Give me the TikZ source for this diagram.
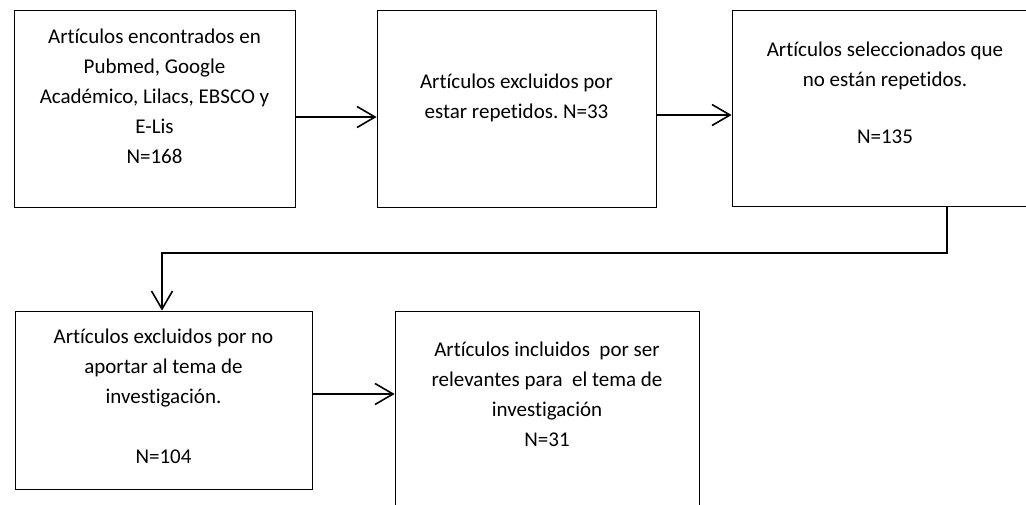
\documentclass[tikz,border=0pt]{standalone}
\usepackage{fontspec}
\setmainfont{Carlito}[Ligatures=NoCommon]
\usetikzlibrary{arrows.meta}
\frenchspacing

\begin{document}
\begin{tikzpicture}[x=1pt,y=-1pt]
  \useasboundingbox (0,0) rectangle (1026,504);

  \begin{scope}[every node/.style={draw,line width=.8pt,inner sep=0}]
    \node[minimum width=281,minimum height=197] (b1) at (154.5,108.5) {};
    \node[minimum width=279,minimum height=197] (b2) at (516.5,108.5) {};
    \node[minimum width=306,minimum height=196] (b3) at (885,108)     {};
    \node[minimum width=297,minimum height=178] (b4) at (163.5,400)   {};
    \node[minimum width=304,minimum height=209] (b5) at (547,415.5)   {};
  \end{scope}

  \begin{scope}[every node/.style={anchor=north,inner sep=0,align=center,
      font=\fontsize{21}{30}\selectfont}]
    \node (t1) at ([yshift=-19]b1.north) {Artículos encontrados en\\Pubmed, Google\\Académico, Lilacs, EBSCO y\\E-Lis\\N=168};
    \node (t2) at ([yshift=-64]b2.north) {Artículos excluidos por\\estar repetidos. N=33};
    \node (t3) at ([yshift=-32]b3.north) {Artículos seleccionados que\\no están repetidos.\\[27pt]N=135};
    \node (t4) at ([yshift=-18]b4.north) {Artículos excluidos por no\\aportar al tema de\\investigación.\\[30pt]N=104};
    \node (t5) at ([yshift=-31]b5.north) {Artículos incluidos~ por ser\\relevantes para~ el tema de\\investigación\\N=31};
  \end{scope}

  \begin{scope}[line width=1.6pt,>={Straight Barb[length=18pt,width=21pt]}]
    \draw[->] (b1.east |- 0,117) -- (b2.west |- 0,117);
    \draw[->] (b2.east |- 0,115) -- (b3.west |- 0,115);
    \draw[->] (b3.south -| 947,0) -- (947,253) -| (b4.north -| 162,0);
    \draw[->] (b4.east |- 0,394) -- (b5.west |- 0,394);
  \end{scope}

\end{tikzpicture}
\end{document}
